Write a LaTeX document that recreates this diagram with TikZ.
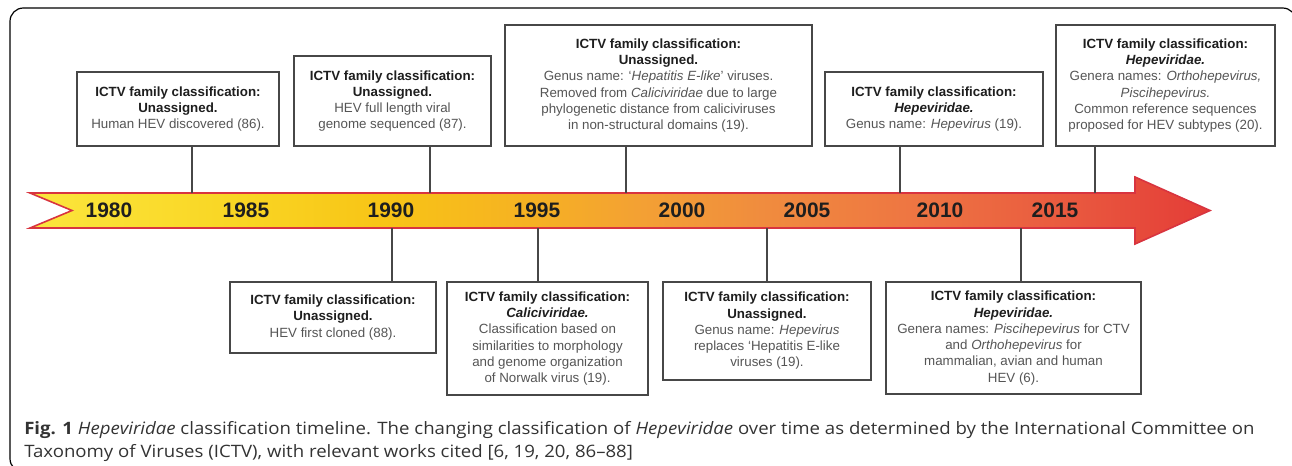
\documentclass[tikz,border=0pt]{standalone}
\usepackage{fontspec}
\usepackage{tikz}
\newfontfamily\boxfont[Ligatures=TeX]{Liberation Sans}
\newfontfamily\capfont[Ligatures=TeX, FakeStretch=1.09]{Open Sans}

\definecolor{bandA}{HTML}{FBE63D}
\definecolor{bandB}{HTML}{F9D523}
\definecolor{bandC}{HTML}{F8C416}
\definecolor{bandD}{HTML}{F6B222}
\definecolor{bandE}{HTML}{F3A034}
\definecolor{bandF}{HTML}{F08C3E}
\definecolor{bandG}{HTML}{EE7542}
\definecolor{bandH}{HTML}{E9593F}
\definecolor{bandI}{HTML}{E43C37}
\definecolor{bandred}{HTML}{D8343F}
\definecolor{boxgray}{HTML}{474747}
\definecolor{bodygray}{HTML}{555555}
\definecolor{titleblack}{HTML}{1E1E1E}
\definecolor{captext}{HTML}{333333}

\pgfdeclarehorizontalshading{bandshade}{100bp}{color(0bp)=(bandA); color(25bp)=(bandA);
  color(34bp)=(bandB); color(40bp)=(bandC); color(46bp)=(bandD); color(51bp)=(bandE);
  color(56bp)=(bandF); color(62.5bp)=(bandG); color(69bp)=(bandH); color(75bp)=(bandI);
  color(100bp)=(bandI)}

\tikzset{
  event/.style 2 args={draw=boxgray, line width=1.3pt, fill=white, align=center,
    inner sep=0pt, text=bodygray, font=\boxfont\fontsize{10}{12.2}\selectfont,
    minimum width=#1*0.75pt, minimum height=#2*0.75pt},
  stem/.style={draw=boxgray, line width=1.1pt},
  year/.style={font=\boxfont\bfseries\fontsize{15.7}{18}\selectfont, text=titleblack}
}
\newcommand{\hd}[1]{\textcolor{titleblack}{\bfseries #1}}

\begin{document}
\begin{tikzpicture}[x=0.75pt, y=-0.75pt]
    \useasboundingbox (0,0) rectangle (1292,465);
    \clip (0,0) rectangle (1292,465);
    \draw[line width=0.9pt, rounded corners=10] (10,8) rectangle (1296,472);

    \shade[shading=bandshade, draw=bandred, line width=1.2pt]
        (30,193) -- (1135,193) -- (1135,177) -- (1210,210.5) -- (1135,244)
        -- (1135,228) -- (30,228) -- (72,210.5) -- cycle;
    \foreach \yr/\xx in {1980/109, 1985/246, 1990/391, 1995/537, 2000/682, 2005/807, 2010/940, 2015/1055}
        \node[year] (y\yr) at (\xx,210.5) {\yr};

    \node[event={202}{74}] (t1) at (178,109) {\hd{ICTV family classification:}\\
        \hd{Unassigned.}\\
        Human HEV discovered (86).};
    \node[event={197}{90}] (t2) at (392.5,101) {\hd{ICTV family classification:}\\
        \hd{Unassigned.}\\
        HEV full length viral\\
        genome sequenced (87).};
    \node[event={307}{121}] (t3) at (658.5,85.5) {\hd{ICTV family classification:}\\
        \hd{Unassigned.}\\
        Genus name: `\textit{Hepatitis E-like}' viruses.\\
        Removed from \textit{Caliciviridae} due to large\\
        phylogenetic distance from caliciviruses\\
        in non-structural domains (19).};
    \node[event={218}{74}] (t4) at (934,109) {\hd{ICTV family classification:}\\
        \hd{\itshape Hepeviridae.}\\
        Genus name: \textit{Hepevirus} (19).};
    \node[event={219}{121}] (t5) at (1165.5,85.5) {\hd{ICTV family classification:}\\
        \hd{\itshape Hepeviridae.}\\
        Genera names: \textit{Orthohepevirus,}\\
        \textit{Piscihepevirus.}\\
        Common reference sequences\\
        proposed for HEV subtypes (20).};

    \node[event={206}{71}] (b1) at (333,317.5) {\hd{ICTV family classification:}\\
        \hd{Unassigned.}\\
        HEV first cloned (88).};
    \node[event={201}{113}] (b2) at (547.5,338.5) {\hd{ICTV family classification:}\\
        \hd{\itshape Caliciviridae.}\\
        Classification based on\\
        similarities to morphology\\
        and genome organization\\
        of Norwalk virus (19).};
    \node[event={208}{98}] (b3) at (767,331) {\hd{ICTV family classification:}\\
        \hd{Unassigned.}\\
        Genus name: \textit{Hepevirus}\\
        replaces `Hepatitis E-like\\
        viruses (19).};
    \node[event={255}{112}] (b4) at (1013.5,338) {\hd{ICTV family classification:}\\
        \hd{\itshape Hepeviridae.}\\
        Genera names: \textit{Piscihepevirus} for CTV\\
        and \textit{Orthohepevirus} for\\
        mammalian, avian and human\\
        HEV (6).};

    \coordinate (e1) at (192,193);
    \coordinate (e2) at (430,193);
    \coordinate (e3) at (626,193);
    \coordinate (e4) at (900,193);
    \coordinate (e5) at (1095,193);
    \coordinate (f1) at (392,228);
    \coordinate (f2) at (538,228);
    \coordinate (f3) at (767,228);
    \coordinate (f4) at (1021,228);
    \draw[stem] (e1) -- (e1 |- t1.south);
    \draw[stem] (e2) -- (e2 |- t2.south);
    \draw[stem] (e3) -- (e3 |- t3.south);
    \draw[stem] (e4) -- (e4 |- t4.south);
    \draw[stem] (e5) -- (e5 |- t5.south);
    \draw[stem] (f1) -- (f1 |- b1.north);
    \draw[stem] (f2) -- (f2 |- b2.north);
    \draw[stem] (f3) -- (f3 |- b3.north);
    \draw[stem] (f4) -- (f4 |- b4.north);

    \node[anchor=north west, align=left, inner sep=0pt, text=captext,
        font=\capfont\fontsize{12.8}{17.3}\selectfont] (caption) at (24,421)
        {\textbf{Fig. 1} \textit{Hepeviridae} classification timeline. The changing classification of \textit{Hepeviridae} over time as determined by the International Committee on\\
        Taxonomy of Viruses (ICTV), with relevant works cited [6, 19, 20, 86--88]};
\end{tikzpicture}
\end{document}
